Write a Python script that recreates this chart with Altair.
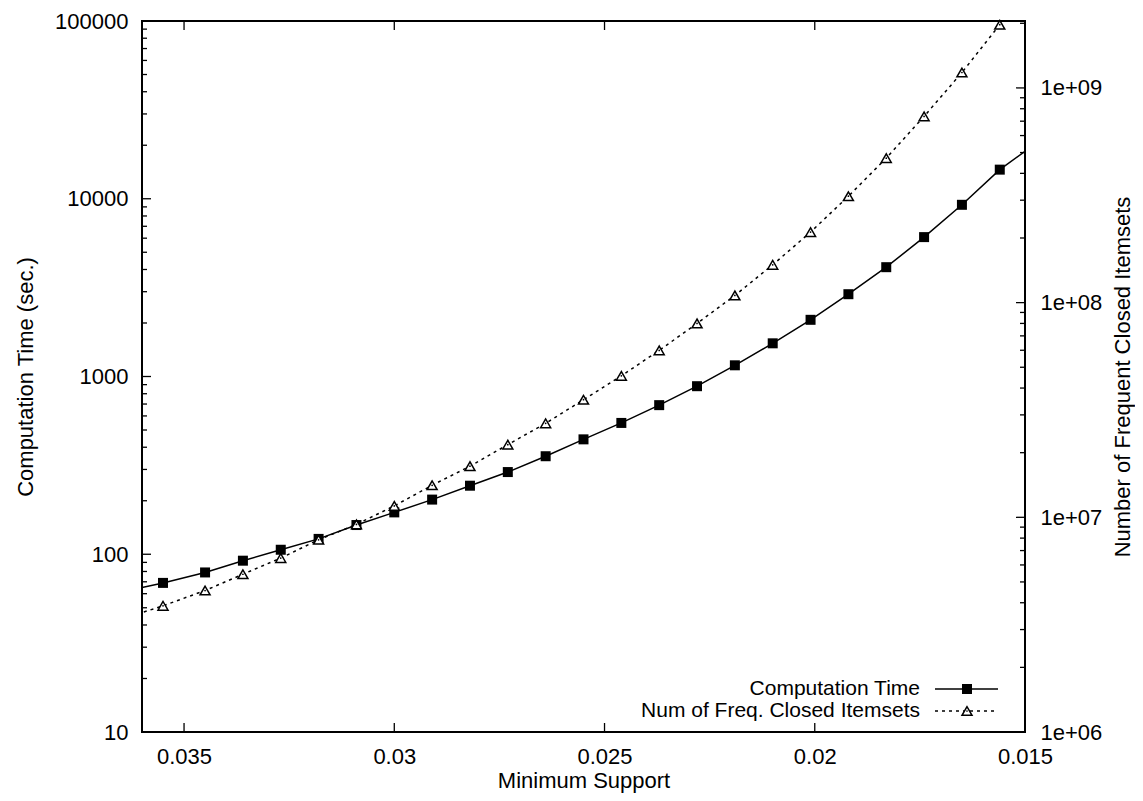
import altair as alt
import pandas as pd

# ---- data ----
support = [0.0355, 0.0345, 0.0336, 0.0327, 0.0318, 0.0309, 0.0300, 0.0291,
           0.0282, 0.0273, 0.0264, 0.0255, 0.0246, 0.0237, 0.0228, 0.0219,
           0.0210, 0.0201, 0.0192, 0.0183, 0.0174, 0.0165, 0.0156]
comp_time = [69, 79, 92, 106, 122, 146, 172, 203, 243, 290, 356, 443,
             548, 690, 882, 1156, 1537, 2084, 2904, 4121, 6084, 9246, 14580]
closed_sets = [3.87e6, 4.56e6, 5.43e6, 6.46e6, 7.86e6, 9.27e6, 1.13e7, 1.41e7,
               1.73e7, 2.18e7, 2.74e7, 3.53e7, 4.56e7, 5.99e7, 8.0e7, 1.08e8,
               1.50e8, 2.13e8, 3.13e8, 4.71e8, 7.37e8, 1.18e9, 1.97e9]
# where the curves meet the frame
ct_edge_support = [0.036, 0.015]
ct_edge_values = [65, 18500]
fc_edge_support = [0.036]
fc_edge_values = [3.6e6]

series_names = ["Computation Time", "Num of Freq. Closed Itemsets"]
x_ticks = [0.035, 0.03, 0.025, 0.02, 0.015]
left_major = [10, 100, 1000, 10000, 100000]
left_minor = [m * d for d in [10, 100, 1000, 10000] for m in range(2, 10)]
right_major = [1e6, 1e7, 1e8, 1e9]
right_minor = [m * d for d in [1e6, 1e7, 1e8] for m in range(2, 10)] + [2e9]

W, H = 883, 711
FONT = "Liberation Sans, Arial, Helvetica, sans-serif"

xs = alt.Scale(type="linear", domain=[0.015, 0.036], reverse=True, nice=False, zero=False)
ys_left = alt.Scale(type="log", domain=[10, 100000], nice=False)
ys_right = alt.Scale(type="log", domain=[1e6, 2.05e9], nice=False)

x_axis = alt.Axis(values=x_ticks, format="~g", title="Minimum Support",
                  ticks=False, tickSize=0, domain=False, grid=False,
                  labelPadding=14, labelFlush=False, labelOverlap=False,
                  titleY=60, titleBaseline="bottom")
yl_axis = alt.Axis(orient="left", values=left_major, format="d",
                   title="Computation Time (sec.)",
                   ticks=False, tickSize=0, domain=False, grid=False,
                   labelPadding=14, labelOverlap=False,
                   titleAngle=270, titleX=-117, titleY=H / 2,
                   titleBaseline="middle", titleAlign="center")
yr_axis = alt.Axis(orient="right", values=right_major,
                   labelExpr="'1e+0' + format(log(datum.value) / log(10), '.0f')",
                   title="Number of Frequent Closed Itemsets",
                   ticks=False, tickSize=0, domain=False, grid=False,
                   labelPadding=15, labelOverlap=False,
                   titleAngle=270, titleX=97, titleY=H / 2,
                   titleBaseline="middle", titleAlign="center")

X = lambda f: alt.X(f, scale=xs, axis=x_axis)
YL = lambda f: alt.Y(f, scale=ys_left, axis=yl_axis)
YR = lambda f: alt.Y(f, scale=ys_right, axis=yr_axis)

pts = pd.DataFrame({"support": support, "ct": comp_time, "fc": closed_sets})
ct_line_df = pd.DataFrame({"support": [ct_edge_support[0]] + support + [ct_edge_support[1]],
                           "ct": [ct_edge_values[0]] + comp_time + [ct_edge_values[1]]})
fc_line_df = pd.DataFrame({"support": fc_edge_support + support,
                           "fc": fc_edge_values + closed_sets})
one = pd.DataFrame({"a": [0]})

TRI = 100

# ---------- left (computation time) ----------
ct_line = alt.Chart(ct_line_df).mark_line(color="black", strokeWidth=1.5, clip=True).encode(
    x=X("support:Q"), y=YL("ct:Q"), order="support:Q")
ct_pts = alt.Chart(pts).mark_point(shape="square", filled=True, color="black",
                                   size=100, opacity=1).encode(
    x=X("support:Q"), y=YL("ct:Q"))

lmaj = alt.Chart(pd.DataFrame({"v": left_major})).mark_rule(color="black", strokeWidth=1.3).encode(
    y=YL("v:Q"), x=alt.value(0), x2=alt.value(9))
lmin = alt.Chart(pd.DataFrame({"v": left_minor})).mark_rule(color="black", strokeWidth=1.3).encode(
    y=YL("v:Q"), x=alt.value(0), x2=alt.value(5))
xbot = alt.Chart(pd.DataFrame({"v": x_ticks})).mark_rule(color="black", strokeWidth=1.3).encode(
    x=X("v:Q"), y=alt.value(H), y2=alt.value(H - 9))
xtop = alt.Chart(pd.DataFrame({"v": x_ticks})).mark_rule(color="black", strokeWidth=1.3).encode(
    x=X("v:Q"), y=alt.value(0), y2=alt.value(9))

# legend (inside, bottom right)
LX_TEXT, LX1, LX2, LXM = 778, 793, 856, 825
LY1, LY2 = 668, 690
leg_df1 = pd.DataFrame({"label": [series_names[0]]})
leg_df2 = pd.DataFrame({"label": [series_names[1]]})
leg_t1 = alt.Chart(leg_df1).mark_text(align="right", baseline="middle", font=FONT,
                                      fontSize=21, color="black").encode(
    text="label:N", x=alt.value(LX_TEXT), y=alt.value(LY1))
leg_t2 = alt.Chart(leg_df2).mark_text(align="right", baseline="middle", font=FONT,
                                      fontSize=21, color="black").encode(
    text="label:N", x=alt.value(LX_TEXT), y=alt.value(LY2))
leg_l1 = alt.Chart(one).mark_rule(color="black", strokeWidth=1.5).encode(
    x=alt.value(LX1), x2=alt.value(LX2), y=alt.value(LY1))
leg_l2 = alt.Chart(one).mark_rule(color="black", strokeWidth=1.5, strokeDash=[3, 4]).encode(
    x=alt.value(LX1), x2=alt.value(LX2), y=alt.value(LY2))
leg_p1 = alt.Chart(one).mark_point(shape="square", filled=True, color="black", size=100,
                                   opacity=1).encode(x=alt.value(LXM), y=alt.value(LY1))
leg_p2 = alt.Chart(one).mark_point(shape="triangle-up", filled=True, fill="white",
                                   stroke="black", strokeWidth=1.5, size=TRI,
                                   opacity=1).encode(x=alt.value(LXM), y=alt.value(LY2))
leg_d2 = alt.Chart(one).mark_point(shape="circle", filled=True, color="black", size=3,
                                   opacity=1).encode(x=alt.value(LXM), y=alt.value(LY2))

left = alt.layer(ct_line, ct_pts, lmaj, lmin, xbot, xtop,
                 leg_l1, leg_l2, leg_p1, leg_p2, leg_d2, leg_t1, leg_t2)

# ---------- right (closed itemsets) ----------
fc_line = alt.Chart(fc_line_df).mark_line(color="black", strokeWidth=1.5,
                                          strokeDash=[3, 4], clip=True).encode(
    x=X("support:Q"), y=YR("fc:Q"), order="support:Q")
fc_pts = alt.Chart(pts).mark_point(shape="triangle-up", filled=True, fill="white",
                                   stroke="black", strokeWidth=1.5, size=TRI,
                                   opacity=1).encode(
    x=X("support:Q"), y=YR("fc:Q"))
fc_dots = alt.Chart(pts).mark_point(shape="circle", filled=True, color="black",
                                    size=3, opacity=1).encode(
    x=X("support:Q"), y=YR("fc:Q"))
rmaj = alt.Chart(pd.DataFrame({"v": right_major})).mark_rule(color="black", strokeWidth=1.3).encode(
    y=YR("v:Q"), x=alt.value(W), x2=alt.value(W - 9))
rmin = alt.Chart(pd.DataFrame({"v": right_minor})).mark_rule(color="black", strokeWidth=1.3).encode(
    y=YR("v:Q"), x=alt.value(W), x2=alt.value(W - 5))

right = alt.layer(fc_line, fc_pts, fc_dots, rmaj, rmin)

chart = alt.layer(left, right).resolve_scale(y="independent").properties(
    width=W, height=H,
    autosize=alt.AutoSizeParams(type="none"),
    padding={"left": 134, "top": 13, "right": 110, "bottom": 61},
    background="white",
).configure_view(
    stroke="black", strokeWidth=2,
).configure_axis(
    labelFont=FONT, titleFont=FONT, labelFontSize=22, titleFontSize=22,
    labelColor="black", titleColor="black", titleFontWeight="normal",
)

chart.save("out.html", embed_options={"renderer": "svg", "actions": False})
